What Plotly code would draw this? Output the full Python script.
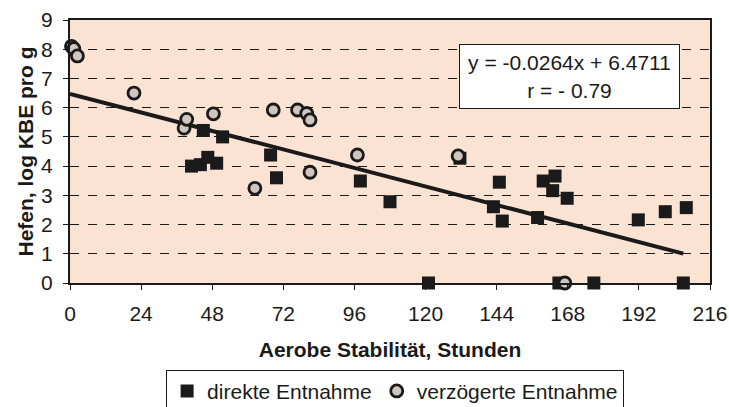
import plotly.graph_objects as go

# direkte Entnahme (squares)
direct_x = [41, 44, 46.5, 49.5, 45, 51.5, 67.7, 69.7, 98, 108, 121, 131.6, 142.9, 144.9, 145.9,
            157.8, 159.7, 162.9, 163.7, 165, 167.8, 176.8, 191.8, 200.9, 207, 208]
direct_y = [4.0, 4.05, 4.3, 4.1, 5.22, 5.0, 4.38, 3.6, 3.49, 2.78, 0.0, 4.27, 2.61, 3.45, 2.12,
            2.24, 3.49, 3.16, 3.66, 0.0, 2.9, 0.0, 2.16, 2.44, 0.0, 2.58]

# verzögerte Entnahme (circles)
delayed_x = [0.5, 1.3, 2.5, 21.6, 38.5, 39.4, 48.4, 62.4, 68.6, 76.8, 79.9, 81, 81, 97, 131, 167]
delayed_y = [8.1, 8.02, 7.77, 6.5, 5.3, 5.6, 5.79, 3.24, 5.92, 5.92, 5.8, 5.58, 3.79, 4.38, 4.35, 0.0]

slope = -0.0264
intercept = 6.4711
trend_x = [0, 207]
trend_y = [slope * v + intercept for v in trend_x]

x_ticks = [0, 24, 48, 72, 96, 120, 144, 168, 192, 216]
y_ticks = list(range(0, 10))

FONT = "Liberation Sans, Arial, sans-serif"
FS = 21

fig = go.Figure()
fig.add_trace(go.Scatter(x=trend_x, y=trend_y, mode="lines",
                         line=dict(color="#1a1a1a", width=4), showlegend=False, hoverinfo="skip"))
fig.add_trace(go.Scatter(x=direct_x, y=direct_y, mode="markers", name="direkte Entnahme",
                         marker=dict(symbol="square", size=13, color="#1a1a1a",
                                     line=dict(color="#1a1a1a", width=0)),
                         cliponaxis=False))
fig.add_trace(go.Scatter(x=delayed_x, y=delayed_y, mode="markers", name="verzögerte Entnahme",
                         marker=dict(symbol="circle", size=12, color="#cfc6be",
                                     line=dict(color="#1a1a1a", width=2.8)),
                         cliponaxis=False))

fig.add_annotation(x=0.781, y=0.785, xref="paper", yref="paper",
                   xanchor="center", yanchor="middle",
                   text="y = -0.0264x + 6.4711<br>r = - 0.79", showarrow=False,
                   font=dict(family=FONT, size=FS, color="#1a1a1a"), align="center",
                   bgcolor="white", bordercolor="#1a1a1a", borderwidth=1, borderpad=3,
                   width=213, height=57)

fig.update_layout(
    width=729, height=407,
    margin=dict(l=70, r=19, t=20, b=124, autoexpand=False),
    paper_bgcolor="white",
    plot_bgcolor="#fae3d3",
    font=dict(family=FONT, size=FS, color="#1a1a1a"),
    showlegend=True,
    legend=dict(orientation="h", x=0.508, xanchor="center", y=-0.33, yanchor="top",
                bordercolor="#1a1a1a", borderwidth=1, bgcolor="white",
                font=dict(family=FONT, size=FS, color="#1a1a1a"),
                itemwidth=30, tracegroupgap=0),
    xaxis=dict(range=[0, 216], tickvals=x_ticks, ticktext=[str(v) for v in x_ticks],
               showgrid=False, zeroline=False, showline=True, linecolor="#1a1a1a", linewidth=2,
               mirror=True, ticks="outside", ticklen=5, tickcolor="#1a1a1a",
               tickfont=dict(size=FS), automargin=False, ticklabelstandoff=6,
               title=dict(text="<b>Aerobe Stabilität, Stunden</b>", standoff=18,
                          font=dict(size=FS))),
    yaxis=dict(range=[0, 9], tickvals=y_ticks, showgrid=True, gridcolor="#1a1a1a",
               griddash="dash", gridwidth=1, zeroline=False, showline=True,
               linecolor="#1a1a1a", linewidth=2, mirror=True, ticks="outside", ticklen=5,
               tickcolor="#1a1a1a", tickfont=dict(size=FS), ticklabelstandoff=6,
               automargin=False,
               title=dict(text="<b>Hefen, log KBE pro g</b>", standoff=2, font=dict(size=FS))),
)

fig.write_html("out.html", config={"displayModeBar": False},
               post_script="document.body.style.margin='0';document.body.style.overflow='hidden';")
